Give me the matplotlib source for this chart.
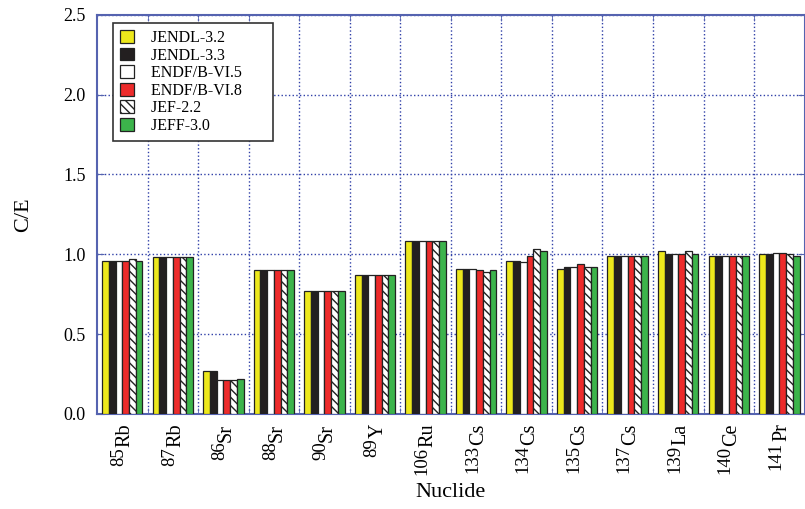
import numpy as np
import matplotlib
matplotlib.use("Agg")
import matplotlib.pyplot as plt
from matplotlib.ticker import MultipleLocator
from matplotlib.transforms import blended_transform_factory, offset_copy

plt.rcParams['font.family'] = ['Liberation Serif', 'DejaVu Serif']
plt.rcParams['hatch.linewidth'] = 1.0

# data
masses = ['85', '87', '86', '88', '90', '89', '106', '133', '134', '135', '137', '139', '140', '141']
elements = ['Rb', 'Rb', 'Sr', 'Sr', 'Sr', 'Y', 'Ru', 'Cs', 'Cs', 'Cs', 'Cs', 'La', 'Ce', 'Pr']

libraries = ['JENDL-3.2', 'JENDL-3.3', 'ENDF/B-VI.5', 'ENDF/B-VI.8', 'JEF-2.2', 'JEFF-3.0']
jendl32 = [0.96, 0.98, 0.27, 0.90, 0.77, 0.87, 1.08, 0.91, 0.96, 0.91, 0.99, 1.02, 0.99, 1.00]
jendl33 = [0.96, 0.98, 0.27, 0.90, 0.77, 0.87, 1.08, 0.91, 0.96, 0.92, 0.99, 1.00, 0.99, 1.00]
endf65 = [0.96, 0.98, 0.21, 0.90, 0.77, 0.87, 1.08, 0.91, 0.95, 0.92, 0.99, 1.00, 0.99, 1.01]
endf68 = [0.96, 0.98, 0.21, 0.90, 0.77, 0.87, 1.08, 0.90, 0.99, 0.94, 0.99, 1.00, 0.99, 1.01]
jef22 = [0.97, 0.98, 0.21, 0.90, 0.77, 0.87, 1.08, 0.89, 1.03, 0.92, 0.99, 1.02, 0.99, 1.00]
jeff30 = [0.96, 0.98, 0.22, 0.90, 0.77, 0.87, 1.08, 0.90, 1.02, 0.92, 0.99, 1.00, 0.99, 0.99]

series = [jendl32, jendl33, endf65, endf68, jef22, jeff30]
colors = ['#ede81c', '#231f20', '#ffffff', '#ed2b2b', '#ffffff', '#3cb44b']
hatches = [None, None, None, None, '\\\\\\\\', None]

blue = '#5563b0'

fig = plt.figure(figsize=(8.05, 5.09), dpi=100)
ax = fig.add_axes([0.1205, 0.187, 0.879, 0.784])

x = np.arange(len(masses))
w = 0.8 / 6
for i, (vals, c, h, lab) in enumerate(zip(series, colors, hatches, libraries)):
    ax.bar(x - 0.4 + w * (i + 0.5), vals, width=w, color=c, edgecolor='#222222',
           linewidth=0.9, hatch=h, label=lab + '      ', zorder=3)

ax.set_xlim(-0.5, len(masses) - 0.5)
ax.set_ylim(0, 2.5)
ax.yaxis.set_major_locator(MultipleLocator(0.5))
ax.yaxis.set_major_formatter(plt.FormatStrFormatter('%.1f'))
ax.set_xticks(x)
ax.set_xticklabels([])
ax.set_xticks(x[:-1] + 0.5, minor=True)

ax.grid(True, which='minor', axis='x', color='#3040a8', linestyle=':', linewidth=1.0, zorder=0)
ax.grid(True, which='major', axis='y', color='#3040a8', linestyle=':', linewidth=1.0, zorder=0)

ax.tick_params(axis='x', which='major', length=0)
ax.tick_params(axis='x', which='minor', direction='in', top=True, bottom=True, length=4, color=blue)
ax.tick_params(axis='y', direction='in', left=True, right=True, length=5, color=blue,
               labelsize=13, pad=8)
for s in ax.spines.values():
    s.set_color(blue)
    s.set_linewidth(1.5)

# nuclide labels: element next to the axis, raised mass number below it (rotated)
trans = blended_transform_factory(ax.transData, ax.transAxes)
fig.canvas.draw()
renderer = fig.canvas.get_renderer()
for xi, m, e in zip(x, masses, elements):
    t_el = ax.text(xi, 0, e, rotation=90, ha='center', va='top', fontsize=14.5,
                   transform=offset_copy(trans, fig=fig, x=2, y=-7, units='points'))
    bb = t_el.get_window_extent(renderer)
    ax.text(xi, 0, m, rotation=90, ha='center', va='top', fontsize=13.5,
            transform=offset_copy(trans, fig=fig, x=-2.5,
                                  y=-7 - bb.height * 72 / fig.dpi, units='points'))

ax.set_xlabel('Nuclide', fontsize=16, labelpad=46)
ax.set_ylabel('C/E', fontsize=16, labelpad=22)

leg = ax.legend(loc='upper left', bbox_to_anchor=(0.0226, 0.98), fontsize=11.5,
                handlelength=0.85, handleheight=0.85, handletextpad=1.1,
                labelspacing=0.1, borderpad=0.45, borderaxespad=0,
                fancybox=False, framealpha=1)
leg.get_frame().set_edgecolor('#333333')
leg.get_frame().set_linewidth(1.2)
leg.set_zorder(5)

fig.savefig('out.png', dpi=100)
